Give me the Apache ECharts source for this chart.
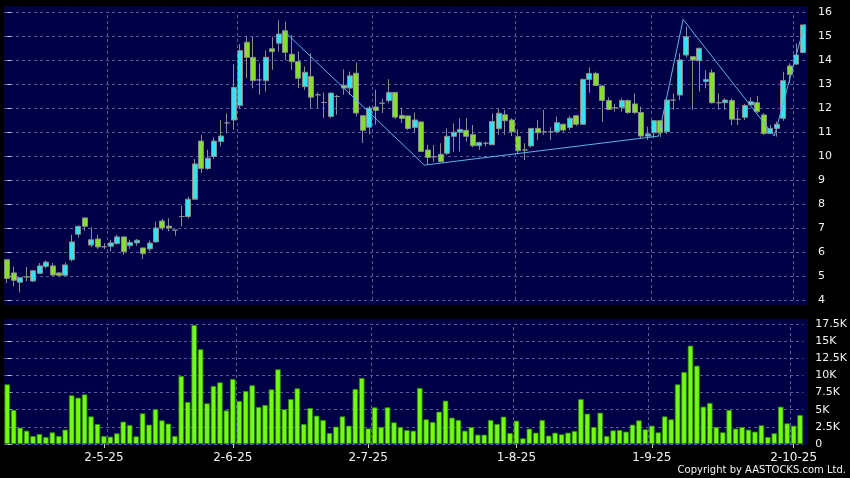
<!DOCTYPE html>
<html>
<head>
<meta charset="utf-8">
<script src="https://cdn.jsdelivr.net/npm/echarts@6/dist/echarts.min.js"></script>
<style>
  html, body { margin: 0; padding: 0; background: #000; }
  #main { width: 850px; height: 478px; }
</style>
</head>
<body>
<div id="main"></div>
<script>
// daily bars, [open, close, low, high]
const ohlc = [
  [5.68,4.90,4.71,5.68],[5.13,4.82,4.57,5.38],[4.74,4.93,4.32,4.95],[4.96,4.96,4.78,5.38],
  [4.79,5.22,4.75,5.25],[5.11,5.42,5.08,5.54],[5.40,5.58,5.32,5.65],[5.42,5.04,5.00,5.54],
  [5.13,5.03,5.00,5.15],[5.03,5.46,5.00,5.57],[5.68,6.42,5.61,6.72],[6.74,7.07,6.60,7.10],
  [7.42,7.07,6.88,7.42],[6.29,6.51,6.21,7.03],[6.54,6.21,6.13,6.72],[6.22,6.22,6.12,6.37],
  [6.24,6.38,6.03,6.51],[6.35,6.63,6.31,6.72],[6.63,6.01,5.89,6.65],[6.26,6.40,6.13,6.51],
  [6.38,6.49,6.26,6.54],[6.17,5.93,5.71,6.17],[6.13,6.37,6.03,6.48],[6.42,7.00,6.38,7.27],
  [7.29,7.00,6.90,7.38],[7.08,7.00,6.86,7.41],[6.91,6.91,6.68,6.91],[7.48,7.48,7.07,7.94],
  [7.48,8.20,7.39,8.31],[8.20,9.67,8.20,9.87],[10.62,9.48,9.29,10.88],[9.48,9.91,9.42,10.26],
  [9.98,10.62,9.87,10.77],[10.60,10.83,10.40,11.50],[11.38,11.38,10.95,11.78],[11.50,12.86,11.09,13.83],
  [12.10,14.39,11.99,14.67],[14.74,14.11,13.24,15.00],[14.11,13.14,12.82,14.97],[13.17,13.17,12.55,13.86],
  [13.14,14.11,12.68,14.39],[14.47,14.35,13.59,14.97],[14.70,15.08,14.35,15.66],[15.22,14.32,14.00,15.60],
  [14.24,13.93,13.59,15.04],[13.93,13.24,12.83,14.35],[12.89,13.49,12.76,13.73],[13.31,12.45,12.00,14.28],
  [12.55,12.55,12.00,12.65],[12.23,12.23,11.58,12.65],[11.65,12.62,11.58,12.65],[12.48,12.48,11.72,12.55],
  [12.94,12.83,12.55,13.61],[12.83,13.34,12.55,13.52],[13.45,11.79,11.65,13.89],[11.68,11.07,10.54,11.68],
  [11.20,12.00,10.89,12.09],[12.04,11.90,11.30,12.76],[12.20,12.20,11.79,12.38],[12.31,12.65,12.20,13.20],
  [12.65,11.62,11.54,12.65],[11.69,11.56,11.37,12.00],[11.67,11.15,11.08,11.67],[11.19,11.50,10.97,11.81],
  [11.42,10.19,10.19,11.42],[10.25,9.94,9.63,10.46],[9.97,9.97,9.76,10.46],[10.07,9.76,9.76,10.53],
  [10.11,10.82,10.04,11.15],[10.82,10.99,10.18,11.36],[10.99,11.11,10.18,11.57],[11.07,10.82,10.60,11.57],
  [10.89,10.43,10.36,11.29],[10.43,10.56,10.25,10.60],[10.53,10.53,10.40,10.60],[10.47,11.44,10.46,11.78],
  [11.14,11.78,10.88,11.99],[11.72,11.47,10.88,11.92],[11.50,11.01,10.83,11.57],[10.81,10.22,10.08,11.11],
  [10.25,10.25,9.83,10.53],[10.42,11.15,10.36,11.15],[11.15,10.97,10.67,11.50],[11.01,11.01,10.88,11.92],
  [11.01,11.01,10.67,11.20],[11.01,11.39,10.94,11.64],[11.32,11.08,11.01,11.36],[11.19,11.57,11.08,11.67],
  [11.68,11.32,11.25,11.68],[11.32,13.19,11.29,13.24],[13.19,13.44,12.64,13.69],[13.44,12.94,12.92,13.51],
  [12.92,12.31,11.43,12.96],[12.31,11.94,11.92,12.44],[12.01,12.01,11.85,12.17],[12.03,12.31,11.85,12.40],
  [12.31,11.81,11.75,12.36],[12.17,11.81,11.75,12.61],[11.81,10.83,10.74,12.06],[10.83,10.92,10.67,11.22],
  [10.97,11.47,10.74,11.50],[11.47,10.97,10.80,11.50],[11.01,12.33,10.92,12.40],[12.33,12.33,11.92,12.61],
  [12.54,14.00,12.33,14.28],[14.21,14.97,14.10,15.39],[14.14,14.00,11.92,14.14],[13.97,14.49,12.68,14.49],
  [13.10,13.19,12.82,13.58],[13.47,12.22,12.19,13.61],[12.22,12.22,11.92,12.61],[12.22,12.33,11.92,12.40],
  [12.31,11.53,11.29,12.40],[11.53,11.53,11.29,11.92],[11.61,12.10,11.50,12.17],[12.13,12.26,12.08,12.44],
  [12.22,11.85,11.78,12.50],[11.71,10.94,10.88,11.78],[10.94,11.15,10.92,11.29],[11.15,11.32,10.81,11.43],
  [11.57,13.14,11.47,13.51],[13.75,13.40,13.03,13.86],[13.83,14.21,13.79,14.69],[14.31,15.46,14.28,15.46]
];

const volumes = [
  8700,4960,2380,1940,1170,1460,1020,1700,1170,2090,
  7100,6760,7240,4030,2920,1170,1070,1560,3260,2770,
  1120,4470,2820,5060,3450,2970,1170,9920,6130,17360,
  13810,5930,8460,8990,4910,9480,6270,7730,8560,5400,
  5690,7970,10890,5060,6560,8120,2920,5250,4130,3500,
  1600,2530,4030,2670,8020,9630,2280,5350,2480,5350,
  3160,2480,2040,1940,8170,3600,3210,4720,6320,3840,
  3500,1940,2480,1360,1360,3500,2920,3990,1600,3400,
  830,2240,1650,3500,1220,1650,1410,1650,1900,6560,
  4420,2480,4570,1170,1990,2040,1800,2820,3450,2140,
  2670,1700,4030,3600,8700,10500,14340,11420,5440,5980,
  2480,1700,4960,2240,2480,2090,1800,2720,1020,1560,
  5440,3010,2670,4230
];

// month tick labels and the bar they sit on
const tickLabels = ['2-5-25', '2-6-25', '2-7-25', '1-8-25', '1-9-25', '2-10-25'];
const tickIndex = [15, 35, 56, 79, 100, 122];
// vertical dashed grid lines (bar positions)
const gridX = [15.5, 35.5, 56.5, 78.5, 99.5, 121.5];

// hand-drawn trend line [bar position, price]
const trendPts = [[42.9, 15.18], [64.5, 9.62], [100.7, 10.83], [104.5, 15.69], [118.6, 10.83], [123.3, 15.5]];

const priceTicks = { min: 4, max: 16, step: 1 };
const volTicks = { min: 0, max: 17500, step: 2500 };

const days = ohlc.map((d, i) => String(i));
const n = ohlc.length;

const navy = '#000046';
const dash = { color: '#58589a', type: [3, 3], width: 1 };
const labelFont = { color: '#f2f2f2', fontFamily: 'DejaVu Sans' };

function vGrid(xi, yi) {
  return {
    type: 'line', xAxisIndex: xi, yAxisIndex: yi, data: [], z: 1, silent: true,
    markLine: {
      silent: true, symbol: ['none', 'none'], label: { show: false },
      lineStyle: dash, emphasis: { disabled: true },
      data: gridX.map(v => ({ xAxis: v }))
    }
  };
}

let chart = echarts.init(document.getElementById('main'));

let option = {
  backgroundColor: '#000',
  animation: false,
  graphic: [
    { type: 'rect', z: -10, silent: true, shape: { x: 4, y: 6, width: 804, height: 299 }, style: { fill: navy } },
    { type: 'rect', z: -10, silent: true, shape: { x: 4, y: 319, width: 804, height: 126 }, style: { fill: navy } },
    { type: 'text', right: 4, top: 465, silent: true,
      style: { text: 'Copyright by AASTOCKS.com Ltd.', fill: '#f2f2f2', font: '10px "DejaVu Sans"' } }
  ],
  grid: [
    { left: 4, top: 12, width: 802, height: 288 },
    { left: 4, top: 324, width: 802, height: 120 }
  ],
  xAxis: [
    { type: 'category', gridIndex: 0, data: days, axisLine: { show: false }, axisTick: { show: false },
      axisLabel: { show: false }, splitLine: { show: false } },
    { type: 'category', gridIndex: 1, data: days, axisLine: { show: false },
      axisTick: { show: true, alignWithLabel: true, length: 4, lineStyle: { color: '#cccccc' },
        interval: i => tickIndex.includes(i) },
      axisLabel: Object.assign({ fontSize: 12, margin: 8, interval: i => tickIndex.includes(i),
        formatter: (v, i) => tickLabels[tickIndex.indexOf(i)] || '' }, labelFont),
      splitLine: { show: false } },
    { type: 'value', gridIndex: 0, position: 'top', min: -0.5, max: n - 0.5, show: false },
    { type: 'value', gridIndex: 1, position: 'top', min: -0.5, max: n - 0.5, show: false }
  ],
  yAxis: [
    { type: 'value', gridIndex: 0, position: 'right', offset: 4,
      min: priceTicks.min, max: priceTicks.max, interval: priceTicks.step,
      axisLine: { show: false },
      axisTick: { show: true, length: 4, lineStyle: { color: '#cccccc' } },
      axisLabel: Object.assign({ fontSize: 11, margin: 8 }, labelFont),
      splitLine: { show: true, lineStyle: dash } },
    { type: 'value', gridIndex: 1, position: 'right', offset: 4,
      min: volTicks.min, max: volTicks.max, interval: volTicks.step,
      axisLine: { show: false },
      axisTick: { show: true, length: 4, lineStyle: { color: '#cccccc' } },
      axisLabel: Object.assign({ fontSize: 11, margin: 8,
        formatter: v => v === 0 ? '0' : (v / 1000) + 'K' }, labelFont),
      splitLine: { show: true, lineStyle: dash } }
  ],
  series: [
    vGrid(2, 0),
    vGrid(3, 1),
    {
      type: 'candlestick', xAxisIndex: 0, yAxisIndex: 0, data: ohlc, barWidth: 5.5,
      itemStyle: { color: '#33e4f0', color0: '#84e02c', borderColor: '#8c8c8c', borderColor0: '#8c8c8c', borderWidth: 1 }
    },
    {
      type: 'bar', xAxisIndex: 1, yAxisIndex: 1, data: volumes, barWidth: 5.5,
      itemStyle: { color: '#72fc12', borderColor: '#2f8a00', borderWidth: 0.8 }
    },
    {
      type: 'line', xAxisIndex: 2, yAxisIndex: 0, data: trendPts, symbol: 'none', z: 5,
      lineStyle: { color: '#5ab4ea', width: 1 }
    }
  ]
};

chart.setOption(option);
</script>
</body>
</html>
